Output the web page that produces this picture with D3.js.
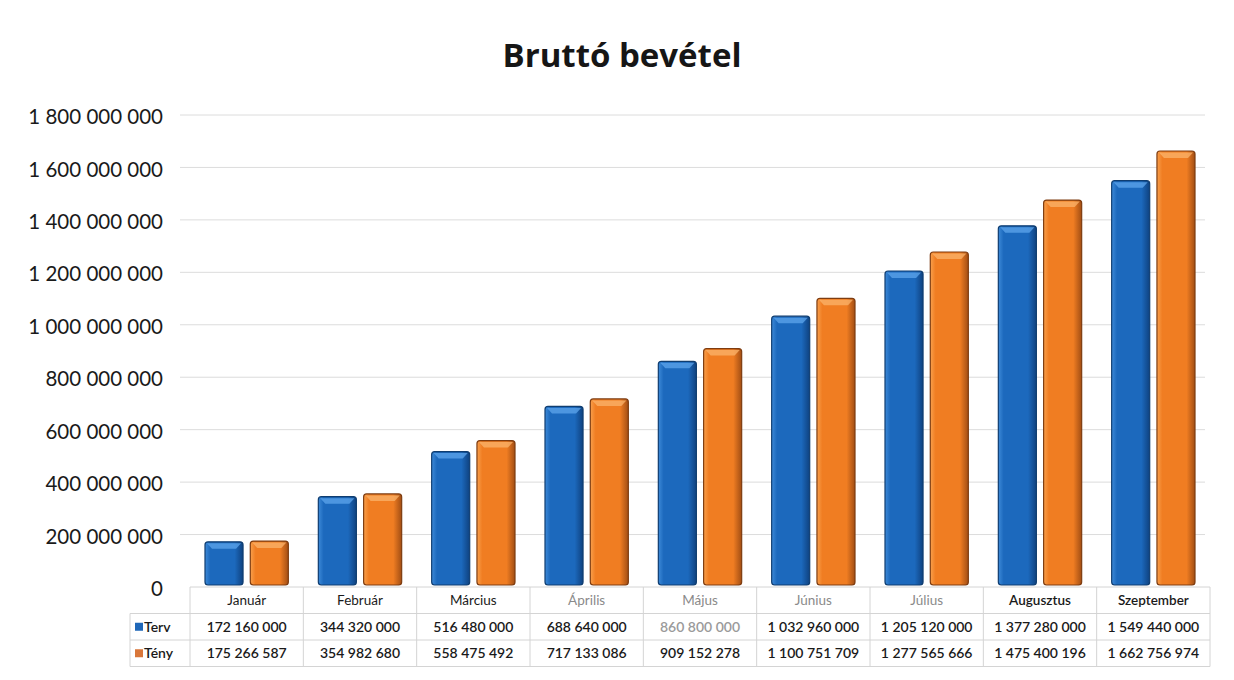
<!DOCTYPE html>
<html>
<head>
<meta charset="utf-8">
<script src="https://cdn.jsdelivr.net/npm/d3@7"></script>
<style>
body { margin:0; background:#fff; }
text { font-family: Lato, "Open Sans", sans-serif; }
</style>
</head>
<body>
<script>
// chart data
var months = ["Január","Február","Március","Április","Május","Június","Július","Augusztus","Szeptember"];
var series = ["Terv","Tény"];
var terv = [172160000,344320000,516480000,688640000,860800000,1032960000,1205120000,1377280000,1549440000];
var teny = [175266587,354982680,558475492,717133086,909152278,1100751709,1277565666,1475400196,1662756974];
var yTicks = [0,200000000,400000000,600000000,800000000,1000000000,1200000000,1400000000,1600000000,1800000000];
// labels that came out faded on the scan
var fadedMonths = ["Április","Május","Június","Július"];

var width = 1234, height = 680;
var svg = d3.select("body").append("svg")
  .attr("width", width).attr("height", height);

var fmt = function(v){ return d3.format(",")(v).replace(/,/g, " "); };

var x = d3.scaleBand().domain(months).range([190, 1210]);
var xs = d3.scaleBand().domain(series).range([15, x.bandwidth() - 15]).paddingInner(0.16);
var y = d3.scaleLinear().domain([0, 1800000000]).range([587, 115]);

// gradients for the bevelled bars
var defs = svg.append("defs");
function barGrad(id, c0, c1, c2){
  var g = defs.append("linearGradient").attr("id", id)
    .attr("x1","0").attr("x2","1").attr("y1","0").attr("y2","0");
  g.append("stop").attr("offset","0%").attr("stop-color", c0);
  g.append("stop").attr("offset","14%").attr("stop-color", c1);
  g.append("stop").attr("offset","78%").attr("stop-color", c1);
  g.append("stop").attr("offset","100%").attr("stop-color", c2);
}
barGrad("gTerv", "#3d8ad8", "#1c69bd", "#0f4280");
barGrad("gTeny", "#f9a04c", "#f07d22", "#a24e14");

// title
svg.append("text").attr("x", 622).attr("y", 67)
  .attr("text-anchor","middle").style("font-size","33px").style("font-weight","bold")
  .style("font-family","'Open Sans', sans-serif")
  .attr("fill","#161616").text("Bruttó bevétel");

// grid
svg.append("g").selectAll("line").data(yTicks.slice(1)).enter().append("line")
  .attr("x1", 180).attr("x2", 1205)
  .attr("y1", function(d){ return y(d); }).attr("y2", function(d){ return y(d); })
  .attr("stroke", "#dcdcdc").attr("stroke-width", 1);

// y axis labels
var yAxis = d3.axisLeft(y).tickValues(yTicks).tickFormat(fmt).tickSize(0).tickPadding(0);
var ya = svg.append("g").attr("transform","translate(163,2)").call(yAxis);
ya.select(".domain").remove();
ya.selectAll("text").style("font-size","20.5px").attr("fill","#1a1a1a")
  .style("font-family","Lato, sans-serif");

// bars
var groups = svg.append("g").selectAll("g").data(months).enter().append("g")
  .attr("transform", function(d){ return "translate(" + x(d) + ",0)"; });

groups.each(function(m, i){
  var g = d3.select(this);
  var vals = [{s:"Terv", v:terv[i]}, {s:"Tény", v:teny[i]}];
  vals.forEach(function(d){
    var bx = xs(d.s), bw = xs.bandwidth(), top = y(d.v), h = y(0) - 2 - top;
    g.append("rect").attr("x", bx).attr("y", top).attr("width", bw).attr("height", h)
      .attr("rx", 3)
      .attr("fill", d.s == "Terv" ? "url(#gTerv)" : "url(#gTeny)")
      .attr("stroke", d.s == "Terv" ? "#0f3d70" : "#7e3c10").attr("stroke-width", 1.2);
    // top bevel highlight
    g.append("polygon")
      .attr("points", [[bx+2, top+1.5],[bx+bw-2, top+1.5],[bx+bw-7, top+7],[bx+7, top+7]].join(" "))
      .attr("fill", d.s == "Terv" ? "#5ea6ec" : "#fbb46c").attr("opacity", 0.75);
  });
});

// data table
var tTop = 587, rowH = 26.5, labelX = 130;
var table = svg.append("g");
var lineCol = "#d4d4d4";
// horizontal lines
table.append("line").attr("x1", 190).attr("x2", 1210).attr("y1", tTop).attr("y2", tTop).attr("stroke", lineCol);
[1,2,3].forEach(function(r){
  table.append("line").attr("x1", labelX).attr("x2", 1210)
    .attr("y1", tTop + r*rowH).attr("y2", tTop + r*rowH).attr("stroke", lineCol);
});
// vertical lines
months.forEach(function(m){
  table.append("line").attr("x1", x(m)).attr("x2", x(m))
    .attr("y1", tTop).attr("y2", tTop + 3*rowH).attr("stroke", lineCol);
});
table.append("line").attr("x1", 1210).attr("x2", 1210)
  .attr("y1", tTop).attr("y2", tTop + 3*rowH).attr("stroke", lineCol);
table.append("line").attr("x1", labelX).attr("x2", labelX)
  .attr("y1", tTop + rowH).attr("y2", tTop + 3*rowH).attr("stroke", lineCol);

// header row
table.selectAll("text.hdr").data(months).enter().append("text").attr("class","hdr")
  .attr("x", function(d){ return x(d) + x.bandwidth()/2; })
  .attr("y", tTop + rowH/2 + 5)
  .attr("text-anchor","middle").style("font-size","13.5px")
  .attr("fill", function(d){ return fadedMonths.indexOf(d) >= 0 ? "#8a8a8a" : "#1a1a1a"; })
  .style("font-weight", function(d){ return (d == "Augusztus" || d == "Szeptember") ? "600" : "normal"; })
  .text(function(d){ return d; });

// value rows
var rows = [{s:"Terv", vals:terv, c:"#1f67b8"}, {s:"Tény", vals:teny, c:"#d9773a"}];
rows.forEach(function(r, ri){
  var cy = tTop + (ri+1)*rowH + rowH/2;
  table.append("rect").attr("x", labelX + 5).attr("y", cy - 4).attr("width", 8).attr("height", 8).attr("fill", r.c);
  table.append("text").attr("x", labelX + 14).attr("y", cy + 5)
    .style("font-size","14px").style("font-weight","600").attr("fill","#1a1a1a").text(r.s);
  table.selectAll("text.v" + ri).data(r.vals).enter().append("text").attr("class","v" + ri)
    .attr("x", function(d, i){ return x(months[i]) + x.bandwidth()/2; })
    .attr("y", cy + 5)
    .attr("text-anchor","middle").style("font-size","14px").style("font-weight","600")
    .attr("fill", function(d, i){ return (ri == 0 && i == 4) ? "#9a9a9a" : "#1a1a1a"; })
    .text(function(d){ return fmt(d); });
});
</script>
</body>
</html>
